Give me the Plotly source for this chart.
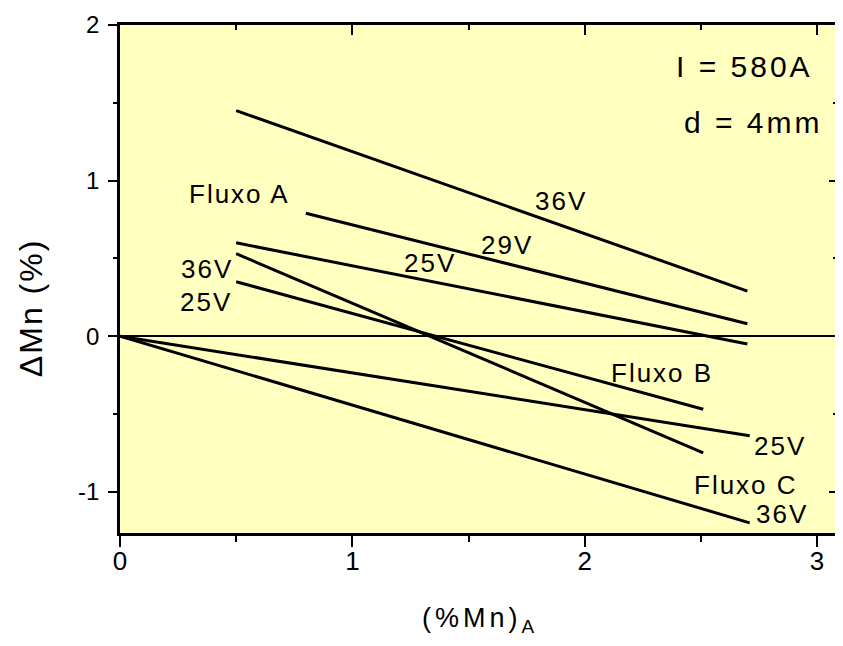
import plotly.graph_objects as go

# ---- data ----
series_names = ["Fluxo A 36V", "Fluxo A 29V", "Fluxo A 25V",
                "Fluxo B 36V", "Fluxo B 25V", "Fluxo C 25V", "Fluxo C 36V"]
x_start = [0.50, 0.80, 0.50, 0.50, 0.50, 0.00, 0.00]
y_start = [1.45, 0.79, 0.60, 0.53, 0.35, 0.00, 0.00]
x_end = [2.70, 2.70, 2.70, 2.51, 2.51, 2.71, 2.71]
y_end = [0.29, 0.08, -0.05, -0.75, -0.47, -0.64, -1.20]

label_texts = ["Fluxo A", "36V", "29V", "25V", "36V", "25V",
               "Fluxo B", "25V", "Fluxo C", "36V"]
label_x = [0.515, 1.90, 1.667, 1.336, 0.375, 0.372, 2.333, 2.841, 2.693, 2.848]
label_y = [0.911, 0.868, 0.589, 0.472, 0.433, 0.219, -0.234, -0.704, -0.958, -1.143]

info_texts = ["I = 580A", "d = 4mm"]
info_x = [2.385, 2.42]
info_y = [1.736, 1.372]

x_ticks = [0, 1, 2, 3]
x_ticktext = ["0", "1", "2", "3"]
y_ticks = [-1, 0, 1, 2]
y_ticktext = ["-1", "0", "1", "2"]
x_range = [0, 3.09]
y_range = [-1.265, 2.0]

FONT = "Liberation Sans, Arial, sans-serif"


def spaced(text, px):
    return '<span style="letter-spacing:%spx">%s</span>' % (px, text)


fig = go.Figure()
for i, name in enumerate(series_names):
    fig.add_trace(go.Scatter(
        x=[x_start[i], x_end[i]], y=[y_start[i], y_end[i]],
        mode="lines", name=name, line=dict(color="black", width=3),
        showlegend=False, hoverinfo="skip"))

# invisible trace to anchor the mirror axes (top / right)
fig.add_trace(go.Scatter(x=x_range, y=y_range, xaxis="x2", yaxis="y2",
                         mode="lines", line=dict(width=0),
                         showlegend=False, hoverinfo="skip"))

for t, x, y in zip(label_texts, label_x, label_y):
    fig.add_annotation(x=x, y=y, text=spaced(t, 2), showarrow=False,
                       xanchor="center", yanchor="middle",
                       font=dict(family=FONT, size=26, color="black"))

for t, x, y in zip(info_texts, info_x, info_y):
    fig.add_annotation(x=x, y=y, text=spaced(t, 3), showarrow=False,
                       xanchor="left", yanchor="middle",
                       font=dict(family=FONT, size=30, color="black"))

# axis titles
fig.add_annotation(xref="paper", yref="paper", x=-0.123, y=0.442,
                   xanchor="center", yanchor="middle",
                   text=spaced("\u0394Mn (%)", 2), textangle=-90,
                   showarrow=False,
                   font=dict(family=FONT, size=32, color="black"))
fig.add_annotation(xref="paper", yref="paper", x=0.4997, y=-0.172,
                   xanchor="center", yanchor="middle",
                   text=spaced("(%Mn)", 4) + "<sub>A</sub>", showarrow=False,
                   font=dict(family=FONT, size=27, color="black"))

axis_common = dict(showgrid=False, linecolor="black", linewidth=2.5,
                   tickcolor="black", tickwidth=2, automargin=False)

# the page body adds an 8px offset, compensated in the margins
fig.update_layout(
    width=843, height=646,
    margin=dict(l=111.5, r=13, t=17, b=121.3, autoexpand=False),
    paper_bgcolor="white",
    plot_bgcolor="#FFFFC0",
    xaxis=dict(range=x_range, tickvals=x_ticks, ticktext=x_ticktext,
               ticks="outside", ticklen=11,
               showline=True, mirror=True, zeroline=False,
               tickfont=dict(family=FONT, size=26, color="black"),
               ticklabelstandoff=-8,
               minor=dict(dtick=0.5, tick0=0, ticks="outside", ticklen=6,
                          tickcolor="black", tickwidth=2),
               **axis_common),
    yaxis=dict(range=y_range, tickvals=y_ticks, ticktext=y_ticktext,
               ticks="outside", ticklen=9,
               showline=True, mirror=True,
               zeroline=True, zerolinecolor="black", zerolinewidth=2,
               tickfont=dict(family=FONT, size=24, color="black"),
               ticklabelstandoff=4,
               minor=dict(dtick=0.5, tick0=0, ticks="outside", ticklen=4,
                          tickcolor="black", tickwidth=2),
               **axis_common),
    xaxis2=dict(range=x_range, overlaying="x", side="top", tickvals=x_ticks,
                ticks="inside", ticklen=10, showticklabels=False,
                showline=False, zeroline=False,
                minor=dict(dtick=0.5, tick0=0, ticks="inside", ticklen=5,
                           tickcolor="black", tickwidth=2),
                **axis_common),
    yaxis2=dict(range=y_range, overlaying="y", side="right", tickvals=y_ticks,
                ticks="inside", ticklen=9, showticklabels=False,
                showline=False, zeroline=False,
                minor=dict(dtick=0.5, tick0=0, ticks="inside", ticklen=5,
                           tickcolor="black", tickwidth=2),
                **axis_common),
)

fig.write_html("out.html")
